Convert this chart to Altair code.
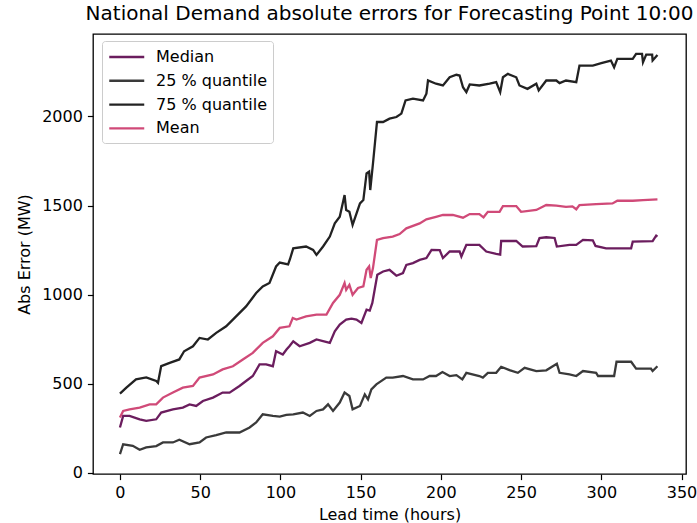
import altair as alt
import pandas as pd

series_names = ["Median", "25 % quantile", "75 % quantile", "Mean"]
series_colors = ["#6b1d5e", "#3a3a3a", "#222222", "#d04a78"]

q75_hours = [0, 4, 10, 16.4, 22.6, 23.7, 25.7, 31, 37, 40, 45.5, 49.6, 54.8, 60, 66.2, 72.4,
             78.6, 84.9, 89, 93.2, 97.3, 99.6, 104.8, 106, 108, 116, 120.4, 122.5, 126.6, 130.8,
             133.9, 137, 140, 141, 143, 145, 149.6, 151.7, 153.7, 155.3, 156, 157.7, 160.2, 164,
             168, 172.3, 175.4, 178, 182.6, 188.9, 191, 192, 197, 201.3, 205.5, 209.7, 211.7,
             213.8, 215.9, 218, 224, 230.4, 234.5, 237, 238.7, 241.8, 247, 249, 254, 259.5, 261,
             265.7, 272, 274, 278, 284.4, 286.4, 294.7, 300, 306, 308, 310, 319.6, 321.7, 325.4,
             326, 328, 331.7, 332, 335]
q75_values = [444, 478, 524, 535, 515, 505, 599, 617, 636, 682, 710, 757, 748, 785, 822, 878,
              934, 1009, 1046, 1065, 1158, 1180, 1170, 1200, 1260, 1270, 1251, 1223, 1270, 1326,
              1400, 1437, 1559, 1475, 1465, 1391, 1512, 1531, 1680, 1690, 1587, 1736, 1969, 1969,
              1988, 1997, 2016, 2090, 2100, 2090, 2128, 2202, 2184, 2174, 2220, 2234, 2230,
              2164, 2137, 2180, 2174, 2184, 2193, 2137, 2220, 2239, 2220, 2174, 2155, 2184, 2146,
              2202, 2202, 2187, 2202, 2193, 2286, 2286, 2299, 2314, 2276, 2323, 2323, 2351, 2351,
              2304, 2347, 2347, 2314, 2345]

median_hours = [0, 2, 6, 12.3, 16.4, 22.6, 25.7, 33, 39.2, 43.4, 47.5, 51.7, 58, 64, 68.3, 74.5,
                78.6, 82.8, 87, 91.1, 95.3, 97.3, 101.5, 103.8, 105.6, 108, 112, 118.3, 122.5,
                130.8, 133.9, 137, 141, 144.3, 147.4, 150.5, 153.7, 155.7, 157.3, 160.4, 164, 168,
                172.3, 176.4, 178.5, 182.6, 186.8, 191, 194.2, 199.3, 201.3, 205.5, 211.7, 212.8,
                215.9, 224, 228.3, 234.5, 237, 237.6, 247, 251, 259.5, 261.5, 265.7, 270.9, 272.3,
                280.2, 284.4, 288.6, 294.7, 296.4, 303, 318.6, 319.6, 332, 334.2, 335]
median_values = [254, 319, 319, 300, 291, 300, 338, 356, 366, 384, 375, 403, 422, 450, 450, 487,
                 515, 543, 608, 608, 598, 682, 664, 692, 710, 738, 710, 729, 748,
                 729, 794, 832, 860, 865, 860, 841, 916, 910, 953, 1111, 1130, 1139,
                 1106, 1121, 1167, 1177, 1195, 1205, 1251, 1250, 1205, 1242, 1242, 1214,
                 1279, 1279, 1242, 1229, 1225, 1301, 1301, 1270, 1272, 1317, 1322, 1318, 1270,
                 1279, 1279, 1307, 1305, 1273, 1260, 1260, 1297, 1300, 1331, 1325]

mean_hours = [0, 2, 6, 12.3, 18.5, 22.6, 26.8, 33, 39.2, 45.5, 49.6, 58, 64, 70.4, 76.6, 82.8, 89,
              95.3, 99.6, 105.6, 107.7, 110, 116, 122.5, 128.7, 132.8, 137, 140, 141, 143, 145,
              148.4, 151.7, 153.7, 155.3, 156.3, 157.7, 160.2, 164, 170, 174.3, 178.5, 186.8, 191,
              197, 201.3, 207.5, 213.8, 218, 224, 226.6, 229.3, 236.6, 238.7, 247, 250, 259.5,
              265.7, 272, 278, 282, 284.4, 286.4, 296.8, 307, 310, 319.6, 326, 335]
mean_values = [310, 347, 356, 366, 384, 384, 422, 450, 478, 487, 534, 552, 580, 598, 636, 673, 729,
               766, 813, 822, 869, 860, 878, 888, 888, 953, 999, 1065, 1027, 1055, 999,
               1037, 1046, 1139, 1158, 1093, 1149, 1307, 1317, 1326, 1340, 1372, 1400, 1423,
               1437, 1447, 1447, 1432, 1452, 1452, 1434, 1465, 1465, 1497, 1497, 1465, 1475,
               1503, 1500, 1493, 1495, 1479, 1503, 1508, 1512, 1527, 1527, 1531, 1535]

q25_hours = [0, 2, 8, 12.3, 16.4, 22.6, 26.8, 33, 37, 43.4, 49.6, 53.7, 60, 66.2, 74.5, 80.8, 84.9,
             89, 95.3, 99.6, 103.7, 108, 114, 118.3, 122.5, 126.6, 129.7, 132.8, 137, 140, 143,
             145, 149.6, 152.6, 154.6, 156.7, 159.8, 166, 170, 176.4, 182.6, 188.9, 193, 197, 201,
             205.5, 209.7, 213.4, 215.9, 224, 226.2, 229.3, 234.5, 237.6, 242.8, 248, 252.2,
             259.5, 265.7, 272.3, 274, 280.2, 284.4, 288.6, 296.8, 298, 308, 309.5, 318.6, 321.7,
             331, 332, 335]
q25_values = [105, 160, 151, 129, 142, 150, 170, 170, 185, 160, 170, 198, 211, 226, 226, 254, 282,
              328, 319, 315, 325, 328, 338, 319, 347, 356, 384, 347, 394, 450, 431,
              356, 375, 440, 412, 468, 496, 534, 534, 543, 524, 524, 543, 543, 565,
              543, 548, 524, 561, 543, 534, 561, 561, 595, 576, 561, 589,
              571, 575, 612, 561, 552, 543, 571, 561, 543, 543, 623, 623, 584,
              584, 571, 598]

x_ticks = [0, 50, 100, 150, 200, 250, 300, 350]
y_ticks = [0, 500, 1000, 1500, 2000]

frames = []
for name, hrs, vals in [
    ("Median", median_hours, median_values),
    ("25 % quantile", q25_hours, q25_values),
    ("75 % quantile", q75_hours, q75_values),
    ("Mean", mean_hours, mean_values),
]:
    frames.append(pd.DataFrame({"series": name, "hour": hrs, "value": vals}))
df = pd.concat(frames, ignore_index=True)

FONT = "DejaVu Sans"

chart = alt.Chart(df).mark_line(strokeWidth=2.3).encode(
    x=alt.X("hour:Q",
            scale=alt.Scale(domain=[-16.8, 352.8], nice=False, zero=False),
            axis=alt.Axis(title="Lead time (hours)", values=x_ticks, grid=False, format="d",
                          domain=False, tickColor="black", tickSize=5.6, tickWidth=1.2,
                          labelPadding=5, labelFontSize=16, labelColor="black",
                          labelFont=FONT, titleFont=FONT, titleFontSize=16,
                          titleFontWeight="normal", titleColor="black", titlePadding=6)),
    y=alt.Y("value:Q",
            scale=alt.Scale(domain=[-7, 2463], nice=False, zero=False),
            axis=alt.Axis(title="Abs Error (MW)", values=y_ticks, grid=False, format="d",
                          domain=False, tickColor="black", tickSize=5.6, tickWidth=1.2,
                          labelPadding=5, labelFontSize=16, labelColor="black",
                          labelFont=FONT, titleFont=FONT, titleFontSize=16,
                          titleFontWeight="normal", titleColor="black", titlePadding=9)),
    color=alt.Color("series:N",
                    scale=alt.Scale(domain=series_names, range=series_colors),
                    sort=series_names,
                    legend=alt.Legend(title=None, orient="none", legendX=9, legendY=7,
                                      symbolType="M-1,0H3", symbolSize=306,
                                      symbolStrokeWidth=2.4, labelFontSize=16,
                                      labelFont=FONT, labelColor="black", labelOffset=28,
                                      rowPadding=5.8, padding=6, fillColor="white",
                                      strokeColor="#cccccc", cornerRadius=3)),
    detail="series:N",
).properties(
    width=593,
    height=440,
    title=alt.TitleParams("National Demand absolute errors for Forecasting Point 10:00",
                          font=FONT, fontSize=20, fontWeight="normal", color="black",
                          anchor="middle", offset=10),
    autosize=alt.AutoSizeParams(type="none"),
    padding={"left": 93, "top": 34, "right": 11, "bottom": 49},
).configure_view(
    stroke="black", strokeWidth=1.3
)

chart.save("out.html", embed_options={"renderer": "svg", "actions": False})
